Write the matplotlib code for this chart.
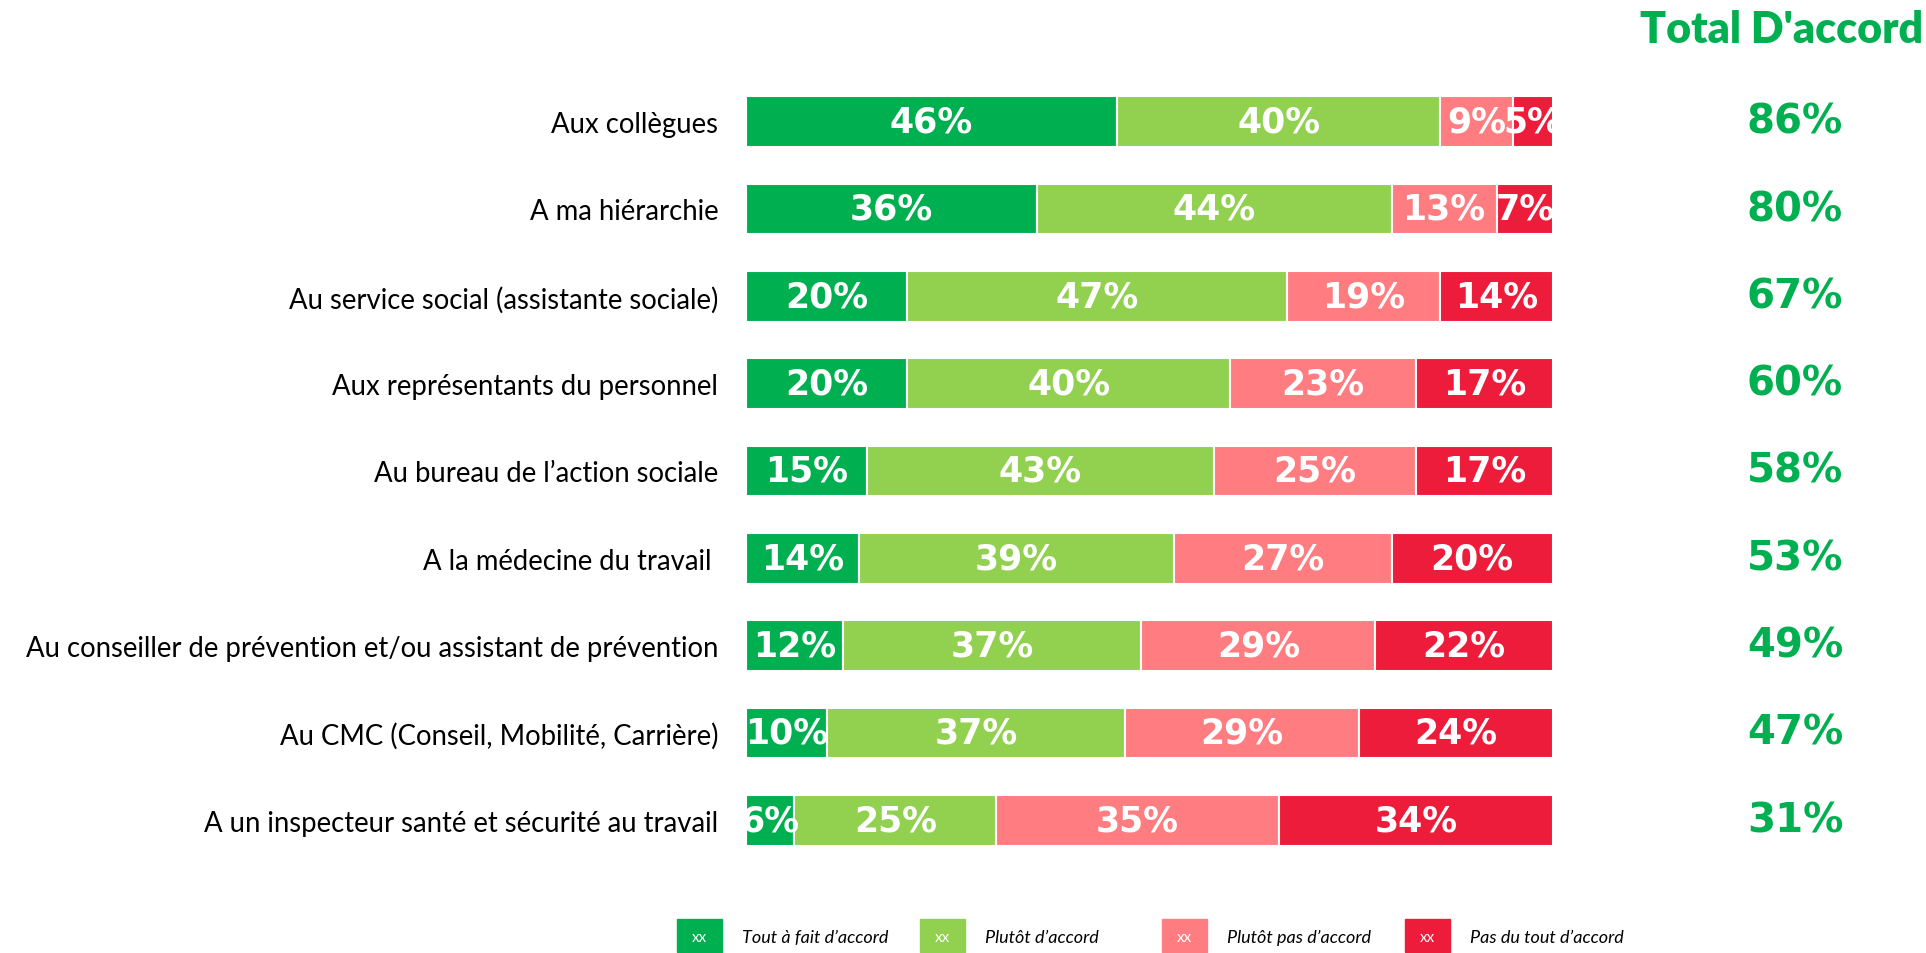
import matplotlib.pyplot as plt
from matplotlib.patches import Rectangle
from matplotlib.transforms import blended_transform_factory

categories = [
    "Aux collègues",
    "A ma hiérarchie",
    "Au service social (assistante sociale)",
    "Aux représentants du personnel",
    "Au bureau de l\u2019action sociale",
    "A la médecine du travail ",
    "Au conseiller de prévention et/ou assistant de prévention",
    "Au CMC (Conseil, Mobilité, Carrière)",
    "A un inspecteur santé et sécurité au travail",
]
tout_a_fait = [46, 36, 20, 20, 15, 14, 12, 10, 6]
plutot = [40, 44, 47, 40, 43, 39, 37, 37, 25]
plutot_pas = [9, 13, 19, 23, 25, 27, 29, 29, 35]
pas_du_tout = [5, 7, 14, 17, 17, 20, 22, 24, 34]
total_accord = [86, 80, 67, 60, 58, 53, 49, 47, 31]

series_labels = ["Tout à fait d\u2019accord", "Plutôt d\u2019accord",
                 "Plutôt pas d\u2019accord", "Pas du tout d\u2019accord"]
colors = ["#00B050", "#92D050", "#FF7C80", "#ED1C3B"]

W, H = 1926, 954
fig = plt.figure(figsize=(W / 100, H / 100), dpi=100)
ax = fig.add_axes([746 / W, 1 - 865 / H, (1553 - 746) / W, (865 - 79) / H])

series = [tout_a_fait, plutot, plutot_pas, pas_du_tout]
y = list(range(len(categories)))
left = [0] * len(categories)
for vals, col in zip(series, colors):
    ax.barh(y, vals, left=left, height=0.58, color=col, edgecolor="white", linewidth=1.5)
    for i, v in enumerate(vals):
        ax.text(left[i] + v / 2, i, f"{v}%", ha="center", va="center",
                color="white", fontsize=25, fontweight="bold",
                family="DejaVu Sans", clip_on=True)
    left = [l + v for l, v in zip(left, vals)]

ax.set_xlim(0, 100)
ax.set_ylim(len(categories) - 0.5, -0.5)
ax.set_yticks(y)
ax.set_yticklabels(categories, fontsize=19.8, family="Lato")
ax.tick_params(axis="y", length=0, pad=20)
ax.set_xticks([])
for s in ax.spines.values():
    s.set_visible(False)

# colonne total
tr = blended_transform_factory(fig.transFigure, ax.transData)
for i, t in enumerate(total_accord):
    ax.text(1795 / W, i, f"{t}%", transform=tr, ha="center", va="center",
            color="#00B050", fontsize=29, fontweight="bold", family="DejaVu Sans")
fig.text(1923 / W, 1 - 30 / H, "Total D'accord", ha="right", va="center",
         color="#00B050", fontsize=31, fontweight="heavy", family="Lato")

# legende
box_x = [677, 920, 1162, 1405]
for bx, lab, col in zip(box_x, series_labels, colors):
    fig.patches.append(Rectangle((bx / W, 1 - 953 / H), 45 / W, 33 / H,
                                 transform=fig.transFigure, color=col))
    fig.text((bx + 22.5) / W, 1 - 938 / H, "xx", ha="center", va="center",
             color="white", fontsize=11, family="Lato")
    fig.text((bx + 65) / W, 1 - 938 / H, lab, ha="left", va="center",
             fontsize=13, style="italic", family="Lato")

fig.savefig("out.png", dpi=100)
